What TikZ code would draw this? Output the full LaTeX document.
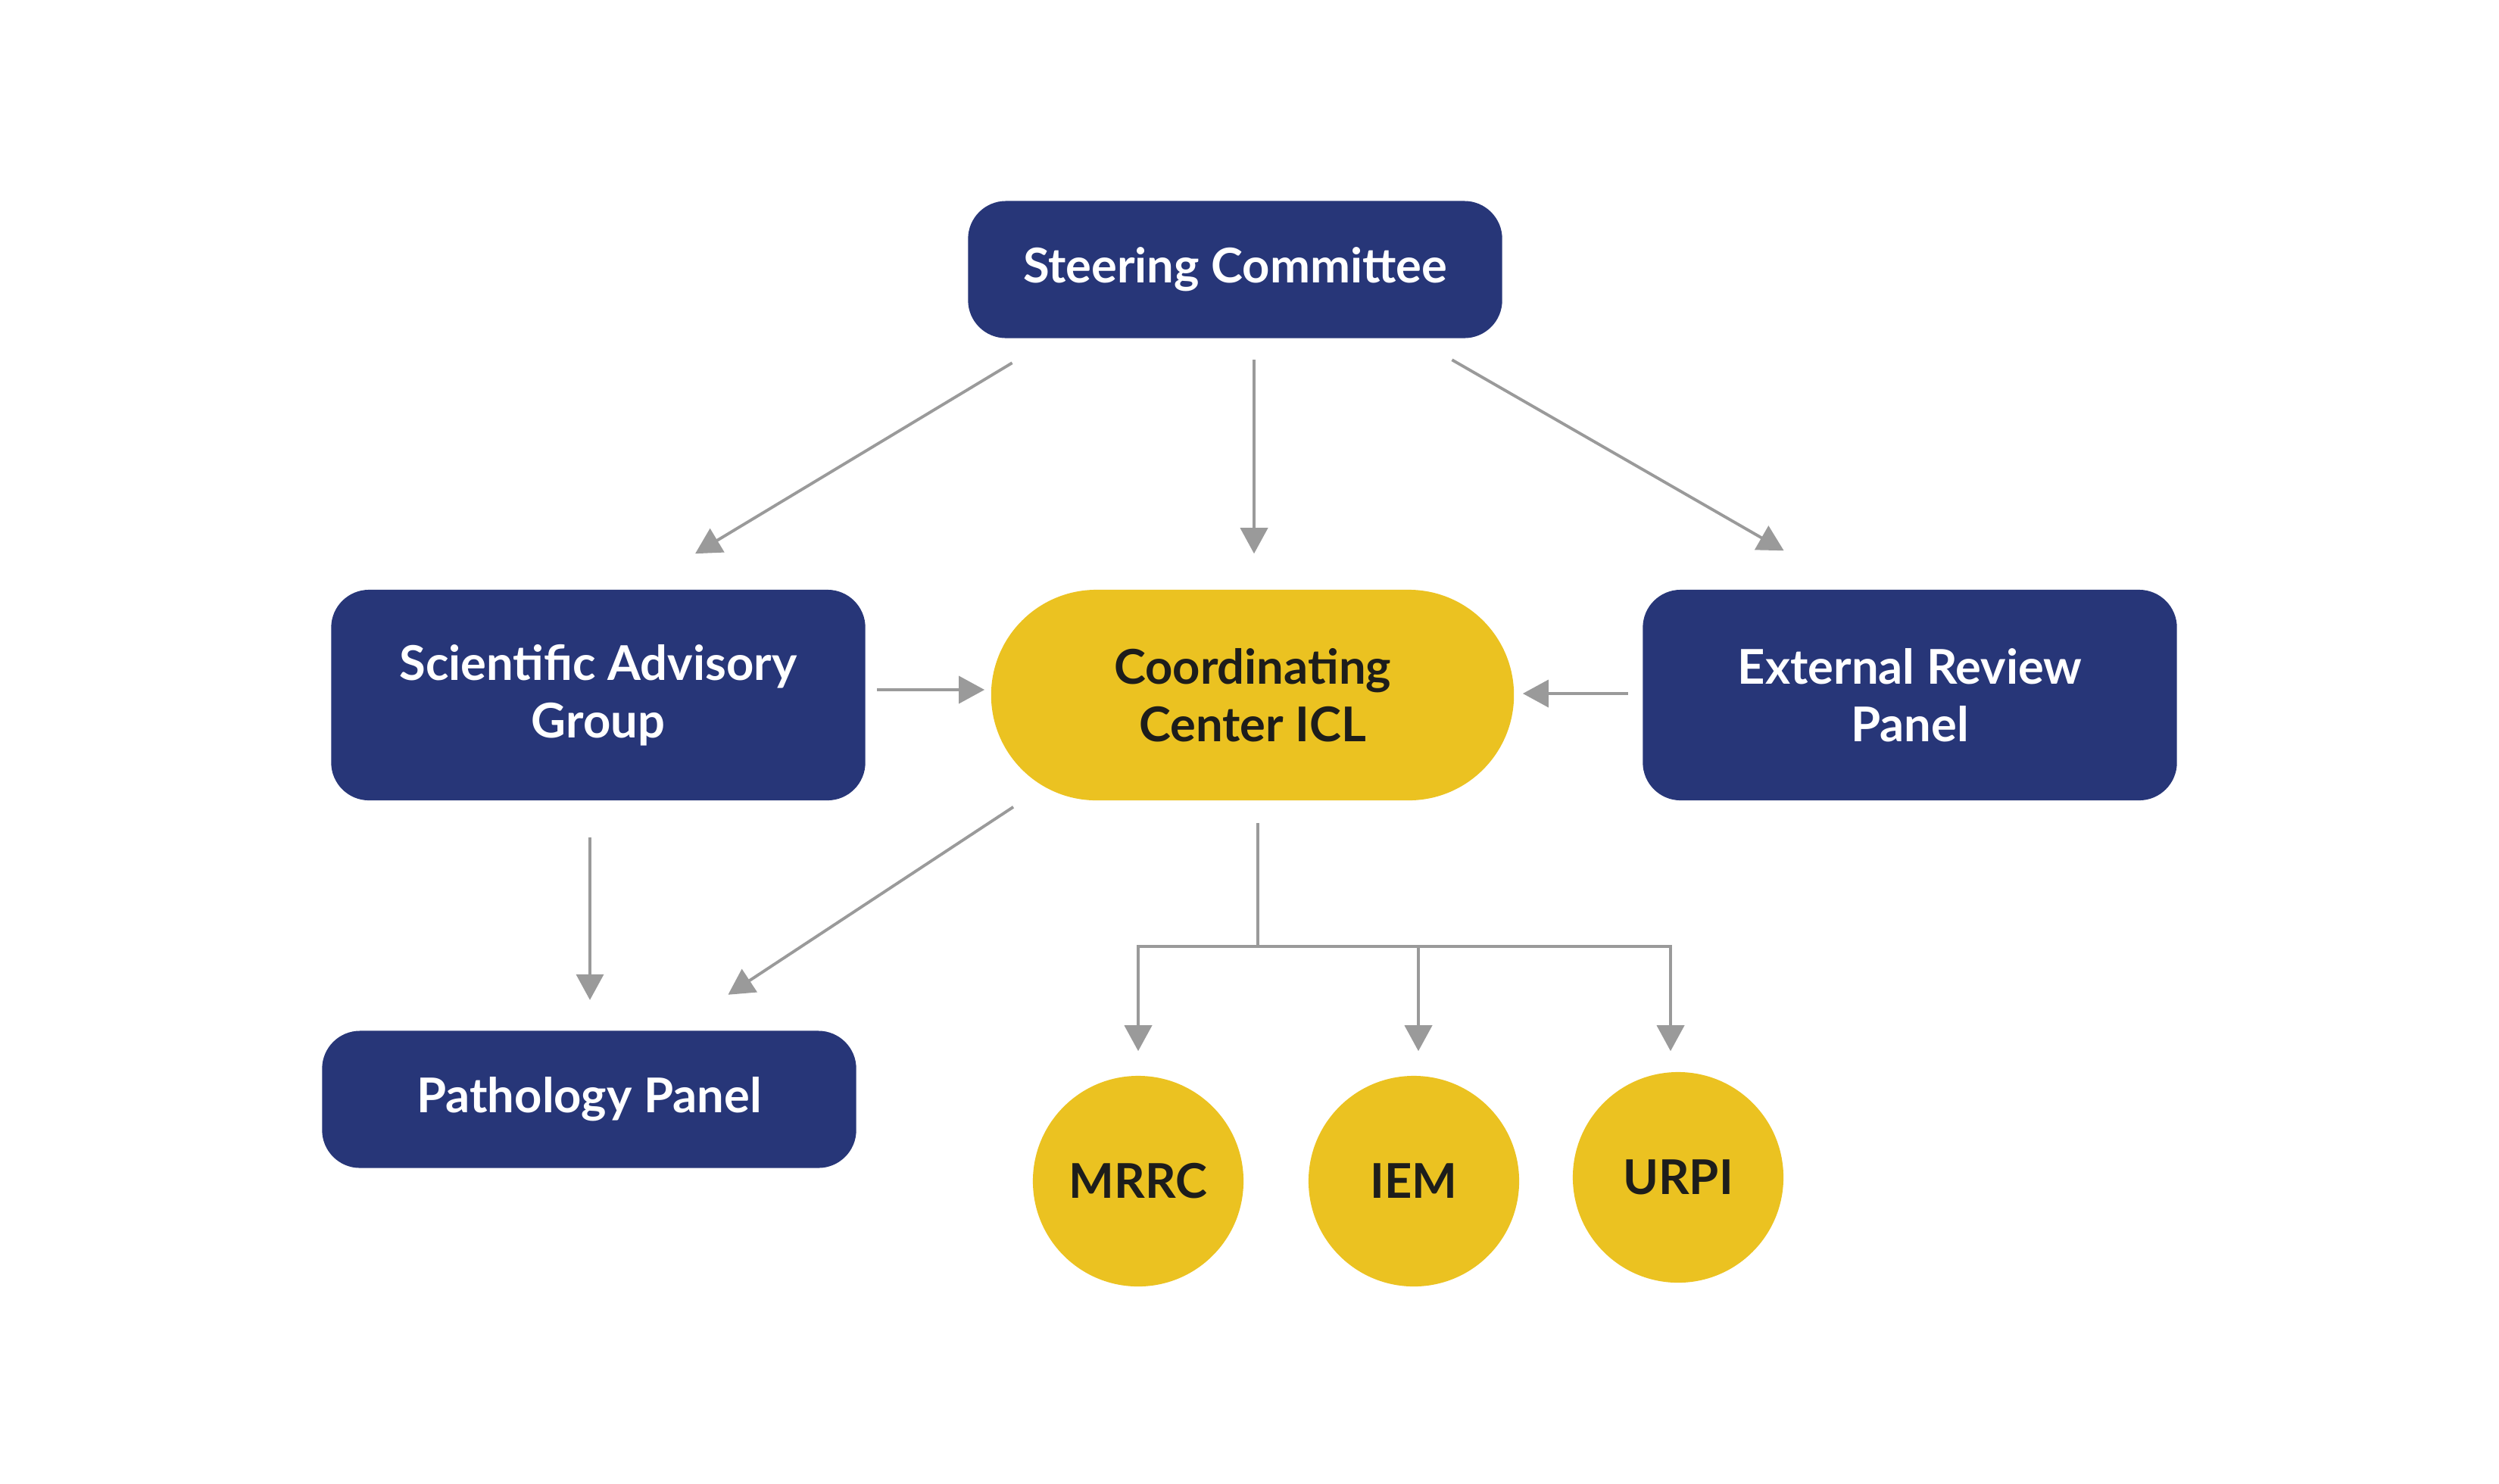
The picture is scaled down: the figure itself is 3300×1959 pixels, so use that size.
\documentclass[tikz,border=0pt]{standalone}
\usepackage{fontspec}
\setmainfont{Lato}
\usepackage{tikz}
\usetikzlibrary{arrows.meta,calc,positioning}
\definecolor{navy}{RGB}{39,54,120}
\definecolor{gold}{RGB}{235,194,33}
\definecolor{ink}{RGB}{29,29,27}
\definecolor{linegray}{RGB}{154,154,154}

\begin{document}
\begin{tikzpicture}[x=0.01cm,y=-0.01cm,
    navybox/.style={rectangle,rounded corners=0.5cm,fill=navy,text=white,
      font=\bfseries\fontsize{18}{21.6}\selectfont,align=center,
      minimum width=7.05cm,minimum height=1.81cm,inner sep=0},
    tallbox/.style={navybox,minimum height=2.78cm},
    goldpill/.style={rectangle,rounded corners=1.39cm,fill=gold,text=ink,
      font=\bfseries\fontsize{18}{21.6}\selectfont,align=center,
      minimum width=6.9cm,minimum height=2.78cm,inner sep=0},
    golddot/.style={circle,fill=gold,text=ink,
      font=\bfseries\fontsize{18}{21.6}\selectfont,minimum size=2.78cm,inner sep=0},
    arr/.style={draw=linegray,line width=1.1pt,
      -{Triangle[length=0.34cm,width=0.36cm]},color=linegray}]
        \useasboundingbox (0,0) rectangle (3300,1959);
        % the boxes
        \node[navybox] (sc) at (1631,356) {Steering Committee};
        \node[tallbox] (sag) at (790,918) {Scientific Advisory\\Group};
        \node[goldpill] (cc) at (1654,918) {Coordinating\\Center ICL};
        \node[tallbox] (erp) at (2522,918) {External Review\\Panel};
        \node[navybox] (pp) at (778,1452) {Pathology Panel};
        % the three centres
        \node[golddot] (mrrc) at (1503,1560) {MRRC};
        \node[golddot] (iem) at (1867,1560) {IEM};
        \node[golddot] (urpi) at (2216,1555) {URPI};
        % arrows from the steering committee
        \draw[arr] ($(sc.south west)+(59,32)$) -- ($(sag.north)+(128,-47)$);
        \draw[arr] ($(sc.south)+(25,28)$) -- ($(cc.north)+(2,-47)$);
        \draw[arr] ($(sc.south east)+(-67,28)$) -- ($(erp.north west)+(187,-51)$);
        % arrows into the coordinating center
        \draw[arr] ($(sag.east)+(15,-7)$) -- ($(cc.west)+(-8,-7)$);
        \draw[arr] ($(erp.west)+(-19,-2)$) -- ($(cc.east)+(11,-2)$);
        % arrows to the pathology panel
        \draw[arr] ($(sag.south)+(-11,48)$) -- ($(pp.north)+(1,-40)$);
        \draw[arr] ($(cc.south west)+(30,8)$) -- ($(pp.north east)+(-170,-47)$);
        % fork down to the centres
        \coordinate (fork) at (1661,1250);
        \draw[line width=1.1pt,linegray] ($(cc.south)+(7,29)$) -- (fork);
        \draw[arr] (fork) -| ($(mrrc.north)+(0,-32)$);
        \draw[arr] (fork) -| ($(iem.north)+(6,-32)$);
        \draw[arr] (fork) -| ($(urpi.north)+(-10,-27)$);
      \end{tikzpicture}
\end{document}
